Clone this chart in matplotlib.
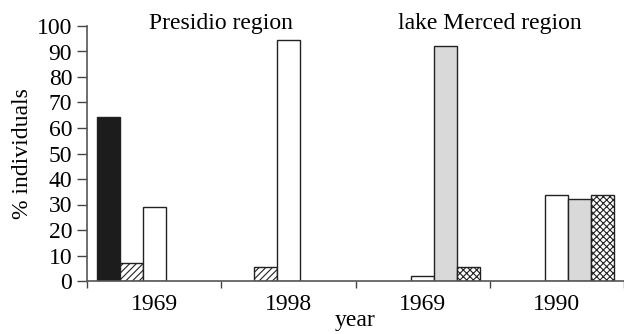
import numpy as np
import matplotlib
matplotlib.use("Agg")
import matplotlib.pyplot as plt

plt.rcParams['font.family'] = ['Liberation Serif', 'DejaVu Serif']
plt.rcParams['hatch.linewidth'] = 0.8

groups = ["1969", "1998", "1969", "1990"]
regions = ["Presidio region", "lake Merced region"]
black = [64.3, np.nan, np.nan, np.nan]
diag = [7.1, 5.4, np.nan, np.nan]
white = [29.1, 94.6, 2.0, 33.8]
grey = [np.nan, np.nan, 92.3, 32.0]
cross = [np.nan, np.nan, 5.6, 33.8]

series = [
    (black, dict(color="#1c1c1c", hatch=None)),
    (diag, dict(color="white", hatch="/////")),
    (white, dict(color="white", hatch=None)),
    (grey, dict(color="#d9d9d9", hatch=None)),
    (cross, dict(color="white", hatch="xxxxx")),
]

fig = plt.figure(figsize=(6.24, 3.34), dpi=100)
ax = fig.add_axes([87/624, 1-281/334, (624-87)/624, (281-26)/334])

x = np.arange(len(groups))
w = 0.171
for k, (vals, st) in enumerate(series):
    ax.bar(x + (k - 2) * w, vals, width=w, color=st["color"], hatch=st["hatch"],
           edgecolor="#222222", linewidth=1.0, zorder=2)

fs = 17
ax.set_xlim(-0.5, 3.5)
ax.set_ylim(0, 100)
ax.set_yticks(np.arange(0, 101, 10))
ax.tick_params(axis='y', direction='out', length=7.2, width=1, labelsize=fs, color="#444444", pad=3.5)
ax.set_xticks(x)
ax.set_xticklabels(groups)
ax.set_xticks(np.arange(-0.5, 3.6, 1.0), minor=True)
ax.tick_params(axis='x', which='major', length=0, labelsize=fs, pad=9)
ax.tick_params(axis='x', which='minor', direction='out', length=5, width=1, color="#444444")
for s in ["top", "right"]:
    ax.spines[s].set_visible(False)
for s in ["left", "bottom"]:
    ax.spines[s].set_color("#555555")
    ax.spines[s].set_linewidth(1.2)
ax.spines["bottom"].set_zorder(3)

ax.set_ylabel("% individuals", fontsize=fs, labelpad=3)
ax.set_xlabel("year", fontsize=fs, labelpad=-3)

ax.text(0.5, 0.988, regions[0], transform=ax.get_xaxis_transform(), ha="center", va="baseline", fontsize=fs)
ax.text(2.5, 0.988, regions[1], transform=ax.get_xaxis_transform(), ha="center", va="baseline", fontsize=fs)

fig.savefig("out.png", dpi=100)
